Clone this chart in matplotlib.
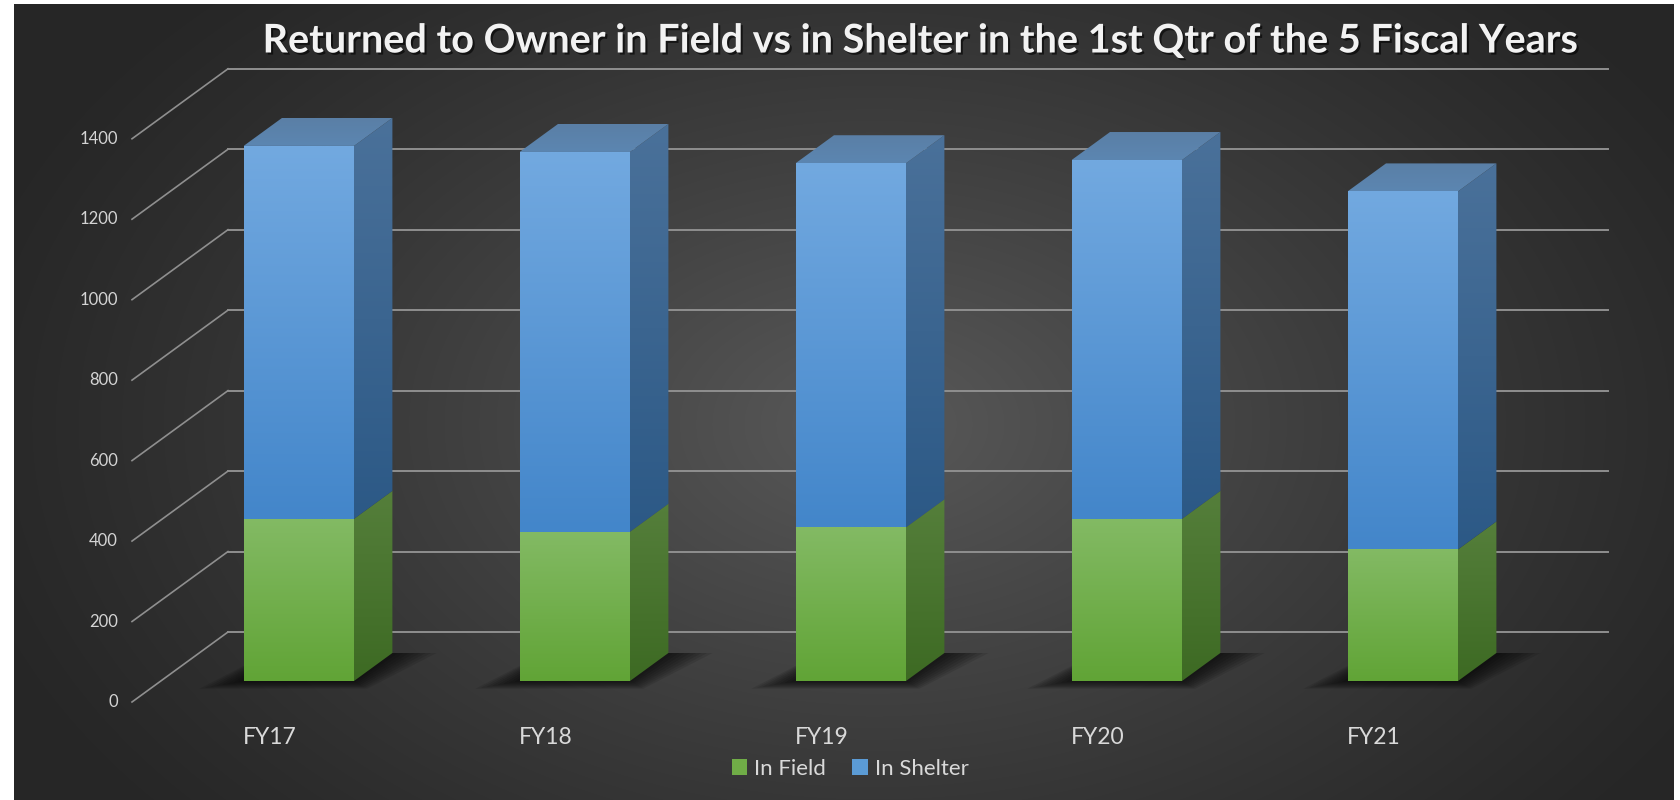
import matplotlib.pyplot as plt
import numpy as np
from matplotlib.patches import Polygon, Patch
from matplotlib.colors import LinearSegmentedColormap
import matplotlib.patheffects as pe

plt.rcParams['font.family'] = ['Lato', 'DejaVu Sans']

# data
years = ["FY17", "FY18", "FY19", "FY20", "FY21"]
in_field = [403, 371, 382, 403, 327]
in_shelter = [927, 944, 905, 892, 890]
y_ticks = [0, 200, 400, 600, 800, 1000, 1200, 1400]

# layout of the fake 3d box (pixel sizes of the reference)
PX_CAT = 276.0      # px per category
PX_VAL = 0.4023     # px per value unit
DX = 96 / PX_CAT    # depth offset in category units
DY = 70 / PX_VAL    # depth offset in value units
BAR_W = 0.40
D_FRONT, D_BACK = 0.3, 0.7


def grad_face(ax, pts, c_top, c_bot, z):
    pts = np.array(pts)
    poly = Polygon(pts, closed=True, facecolor='none', edgecolor='none')
    ax.add_patch(poly)
    cmap = LinearSegmentedColormap.from_list('g', [c_bot, c_top])
    grad = np.linspace(0, 1, 128)[:, None]
    im = ax.imshow(grad, cmap=cmap, origin='lower', aspect='auto',
                   interpolation='bilinear', zorder=z,
                   extent=[pts[:, 0].min(), pts[:, 0].max(),
                           pts[:, 1].min(), pts[:, 1].max()])
    im.set_clip_path(poly)


fig = plt.figure(figsize=(16.8, 8), dpi=100)
fig.patch.set_facecolor('white')

# background radial gradient
bg = fig.add_axes([14 / 1680, 0, 1 - 20 / 1680, 1 - 4 / 800])
bg.set_axis_off()
yy, xx = np.mgrid[0:796, 0:1660]
r = np.sqrt(((xx - 860) / 950.0) ** 2 + ((yy - 420) / 620.0) ** 2)
shade = np.clip(1 - r, 0, 1) ** 1.2
lo, hi = np.array([0.15, 0.15, 0.15]), np.array([0.35, 0.35, 0.35])
img = lo + (hi - lo) * shade[..., None]
bg.imshow(img, aspect='auto', interpolation='bilinear')

ax = fig.add_axes([0, 0, 1, 1])
ax.set_axis_off()
ax.patch.set_alpha(0)
x_lim = (-132 / PX_CAT, (1680 - 132) / PX_CAT)
y_lim = (-98 / PX_VAL, 702 / PX_VAL)

n = len(years)
grid_c = '#8f8f8f'
for v in y_ticks:
    # back wall line + left wall diagonal
    ax.plot([DX, n + DX], [v + DY, v + DY], color=grid_c, lw=1.4, zorder=1)
    ax.plot([0, DX], [v, v + DY], color=grid_c, lw=1.2, zorder=1)
    ax.text(-14 / PX_CAT, v, str(v), ha='right', va='center',
            fontsize=12, color='#d4d4d4')

for i in range(n):
    c = i + 0.5 + D_FRONT * DX
    xl, xr = c - BAR_W / 2, c + BAR_W / 2
    dd = (D_BACK - D_FRONT)
    yf = D_FRONT * DY
    # soft shadow on the floor
    for e in np.linspace(0.02, 0.16, 8):
        sh = Polygon([(xl - e, yf - e * 120), (xr + e * 0.3, yf - e * 120),
                      (xr + dd * DX + e, yf + dd * DY),
                      (xl + dd * DX - e * 0.3, yf + dd * DY)],
                     closed=True, facecolor='black', edgecolor='none',
                     alpha=0.1, zorder=2)
        ax.add_patch(sh)

    segs = [(0, in_field[i], '#83ba64', '#61a436', '#557f3b', '#3d6a23'),
            (in_field[i], in_field[i] + in_shelter[i],
             '#72a9e0', '#4386ca', '#4a719a', '#2c5986')]
    for v0, v1, ft, fb, st, sb in segs:
        grad_face(ax, [(xr, v0 + yf), (xr + dd * DX, v0 + yf + dd * DY),
                       (xr + dd * DX, v1 + yf + dd * DY), (xr, v1 + yf)],
                  st, sb, 3)
        grad_face(ax, [(xl, v0 + yf), (xr, v0 + yf), (xr, v1 + yf),
                       (xl, v1 + yf)], ft, fb, 4)
    top = in_field[i] + in_shelter[i]
    grad_face(ax, [(xl, top + yf), (xr, top + yf),
                   (xr + dd * DX, top + yf + dd * DY),
                   (xl + dd * DX, top + yf + dd * DY)],
              '#5a7fa6', '#5c86b1', 5)

    ax.text(i + 0.5, -87, years[i], ha='center', va='center',
            fontsize=16.5, color='#d9d9d9')

ax.set_xlim(*x_lim)
ax.set_ylim(*y_lim)

fig.text(921 / 1680, 1 - 41 / 800,
         "Returned to Owner in Field vs in Shelter in the 1st Qtr of the 5 Fiscal Years",
         ha='center', va='center', fontsize=28.5, fontweight='bold', color='#f2f2f2',
         path_effects=[pe.withSimplePatchShadow(offset=(1.5, -1.5), shadow_rgbFace='black', alpha=0.6)])

handles = [Patch(facecolor='#70ad47', label='In Field'),
           Patch(facecolor='#5b9bd5', label='In Shelter')]
fig.legend(handles=handles, loc='center', bbox_to_anchor=(850 / 1680, 1 - 769 / 800),
           ncol=2, frameon=False, fontsize=16, labelcolor='#d9d9d9',
           handlelength=0.7, handleheight=0.7, handletextpad=0.3, columnspacing=1.2)

fig.savefig('out.png', dpi=100, facecolor=fig.get_facecolor())
